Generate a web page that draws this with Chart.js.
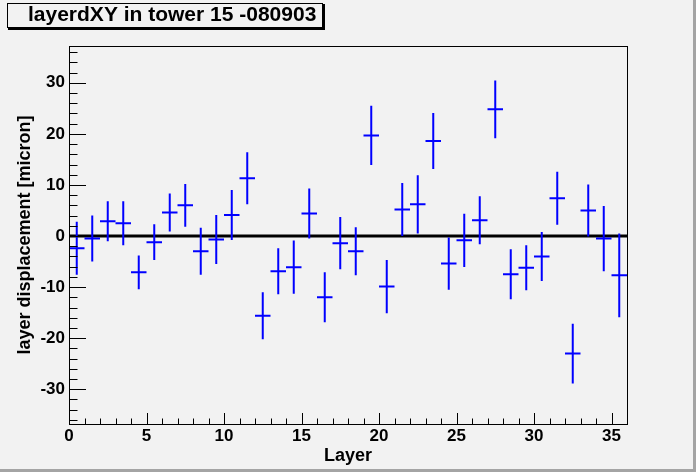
<!DOCTYPE html>
<html>
<head>
<meta charset="utf-8">
<script src="https://cdn.jsdelivr.net/npm/chart.js@4"></script>
<style>
  html, body { margin: 0; padding: 0; background: #f2f2f2; }
  #wrap { width: 696px; height: 472px; }
</style>
</head>
<body>
<div id="wrap"><canvas id="layerChart" width="696" height="472"></canvas></div>
<script>
// layerdXY per layer, tower 15
const titleText = "layerdXY in tower 15 -080903";
const layers = [0, 1, 2, 3, 4, 5, 6, 7, 8, 9, 10, 11, 12, 13, 14, 15, 16, 17,
  18, 19, 20, 21, 22, 23, 24, 25, 26, 27, 28, 29, 30, 31, 32, 33, 34, 35];
const displacement = [-2.4, -0.5, 2.9, 2.5, -7.1, -1.2, 4.6, 6.0, -3.0, -0.7, 4.1, 11.3,
  -15.6, -6.9, -6.1, 4.4, -12.0, -1.4, -3.0, 19.7, -9.9, 5.2, 6.2, 18.6,
  -5.4, -0.85, 3.1, 24.8, -7.5, -6.2, -4.0, 7.4, -23.0, 5.0, -0.5, -7.7];
const errors = [5.2, 4.5, 3.9, 4.3, 3.3, 3.5, 3.7, 4.2, 4.6, 4.8, 4.9, 5.1,
  4.6, 4.5, 5.2, 4.9, 4.9, 5.1, 4.7, 5.8, 5.2, 5.2, 5.7, 5.5,
  5.1, 5.2, 4.7, 5.65, 4.9, 4.4, 4.8, 5.2, 5.85, 5.1, 6.4, 8.2];
const xTicks = [0, 5, 10, 15, 20, 25, 30, 35];
const yTicks = [-30, -20, -10, 0, 10, 20, 30];

const binHalf = 0.5;
const font = "'Liberation Sans', Arial, sans-serif";

const points = layers.map((l, i) => ({ x: l + binHalf, y: displacement[i], err: errors[i] }));

// canvas background, 3d border, title box
const rootFrame = {
  id: "rootFrame",
  beforeDraw(chart) {
    const ctx = chart.ctx;
    ctx.save();
    ctx.fillStyle = "#f2f2f2";
    ctx.fillRect(0, 0, chart.width, chart.height);
    ctx.fillStyle = "#a4a4a4";
    ctx.fillRect(chart.width - 3, 0, 3, chart.height);
    ctx.fillRect(0, chart.height - 3, chart.width, 3);
    ctx.restore();
  },
  afterDraw(chart) {
    const ctx = chart.ctx;
    ctx.save();
    ctx.strokeStyle = "#000";
    ctx.lineWidth = 1;
    ctx.strokeRect(7.5, 3.5, 315, 24);
    ctx.lineWidth = 2;
    ctx.beginPath();
    ctx.moveTo(324, 4);
    ctx.lineTo(324, 29);
    ctx.lineTo(8, 29);
    ctx.stroke();
    ctx.fillStyle = "#000";
    ctx.font = "bold 21px " + font;
    ctx.textBaseline = "alphabetic";
    ctx.fillText(titleText, 28, 20.5);
    ctx.restore();
  }
};

// frame, inside ticks and error bars
const errorBars = {
  id: "errorBars",
  afterDatasetsDraw(chart) {
    const ctx = chart.ctx;
    const xs = chart.scales.x, ys = chart.scales.y;
    const a = chart.chartArea;
    ctx.save();
    ctx.strokeStyle = "#0000ff";
    ctx.lineWidth = 2;
    points.forEach(p => {
      const px = xs.getPixelForValue(p.x);
      const py = ys.getPixelForValue(p.y);
      const top = Math.max(ys.getPixelForValue(p.y + p.err), a.top);
      const bot = Math.min(ys.getPixelForValue(p.y - p.err), a.bottom);
      ctx.beginPath();
      ctx.moveTo(xs.getPixelForValue(p.x - binHalf), py);
      ctx.lineTo(xs.getPixelForValue(p.x + binHalf), py);
      ctx.moveTo(px, top);
      ctx.lineTo(px, bot);
      ctx.stroke();
    });

    ctx.strokeStyle = "#000";
    ctx.lineWidth = 1;
    ctx.beginPath();
    for (let v = xs.min; v <= xs.max; v += 1) {
      const px = Math.round(xs.getPixelForValue(v)) + 0.5;
      const len = v % 5 === 0 ? 11 : 5.5;
      ctx.moveTo(px, a.bottom);
      ctx.lineTo(px, a.bottom - len);
    }
    for (let v = -36; v <= 36; v += 2) {
      const py = Math.round(ys.getPixelForValue(v)) + 0.5;
      const len = v % 10 === 0 ? 17 : 8.5;
      ctx.moveTo(a.left, py);
      ctx.lineTo(a.left + len, py);
    }
    ctx.stroke();
    ctx.strokeRect(Math.round(a.left) + 0.5, Math.round(a.top) + 0.5,
      Math.round(a.right - a.left), Math.round(a.bottom - a.top));
    ctx.restore();
  }
};

new Chart(document.getElementById("layerChart"), {
  type: "scatter",
  data: {
    datasets: [{
      label: "zero",
      type: "line",
      data: [{ x: 0, y: 0 }, { x: 36, y: 0 }],
      borderColor: "#000",
      borderWidth: 3,
      pointRadius: 0
    }, {
      label: "layerdXY",
      data: points,
      pointRadius: 0,
      borderColor: "#0000ff",
      backgroundColor: "#0000ff"
    }]
  },
  options: {
    responsive: false,
    animation: false,
    layout: { padding: { left: 0, top: 46, right: 69, bottom: 0 } },
    plugins: { legend: { display: false }, tooltip: { enabled: false }, title: { display: false } },
    scales: {
      x: {
        type: "linear",
        min: 0,
        max: 36,
        afterFit(s) { s.height = 48; },
        afterBuildTicks(s) { s.ticks = xTicks.map(v => ({ value: v })); },
        grid: { display: false, drawTicks: false },
        border: { display: false },
        ticks: { color: "#000", padding: 2, maxRotation: 0, autoSkip: false,
          font: { family: font, size: 17, weight: "bold" } },
        title: { display: true, text: "Layer", color: "#000", padding: { top: 0, bottom: 5 },
          font: { family: font, size: 18, weight: "bold" } }
      },
      y: {
        type: "linear",
        min: -36.8,
        max: 37.2,
        afterFit(s) { s.width = 69; },
        afterBuildTicks(s) { s.ticks = yTicks.map(v => ({ value: v })); },
        grid: { display: false, drawTicks: false },
        border: { display: false },
        ticks: { color: "#000", padding: 4, autoSkip: false,
          font: { family: font, size: 17, weight: "bold" } },
        title: { display: true, text: "layer displacement [micron]", color: "#000",
          padding: { top: 14, bottom: 0 },
          font: { family: font, size: 18, weight: "bold" } }
      }
    }
  },
  plugins: [rootFrame, errorBars]
});
</script>
</body>
</html>
